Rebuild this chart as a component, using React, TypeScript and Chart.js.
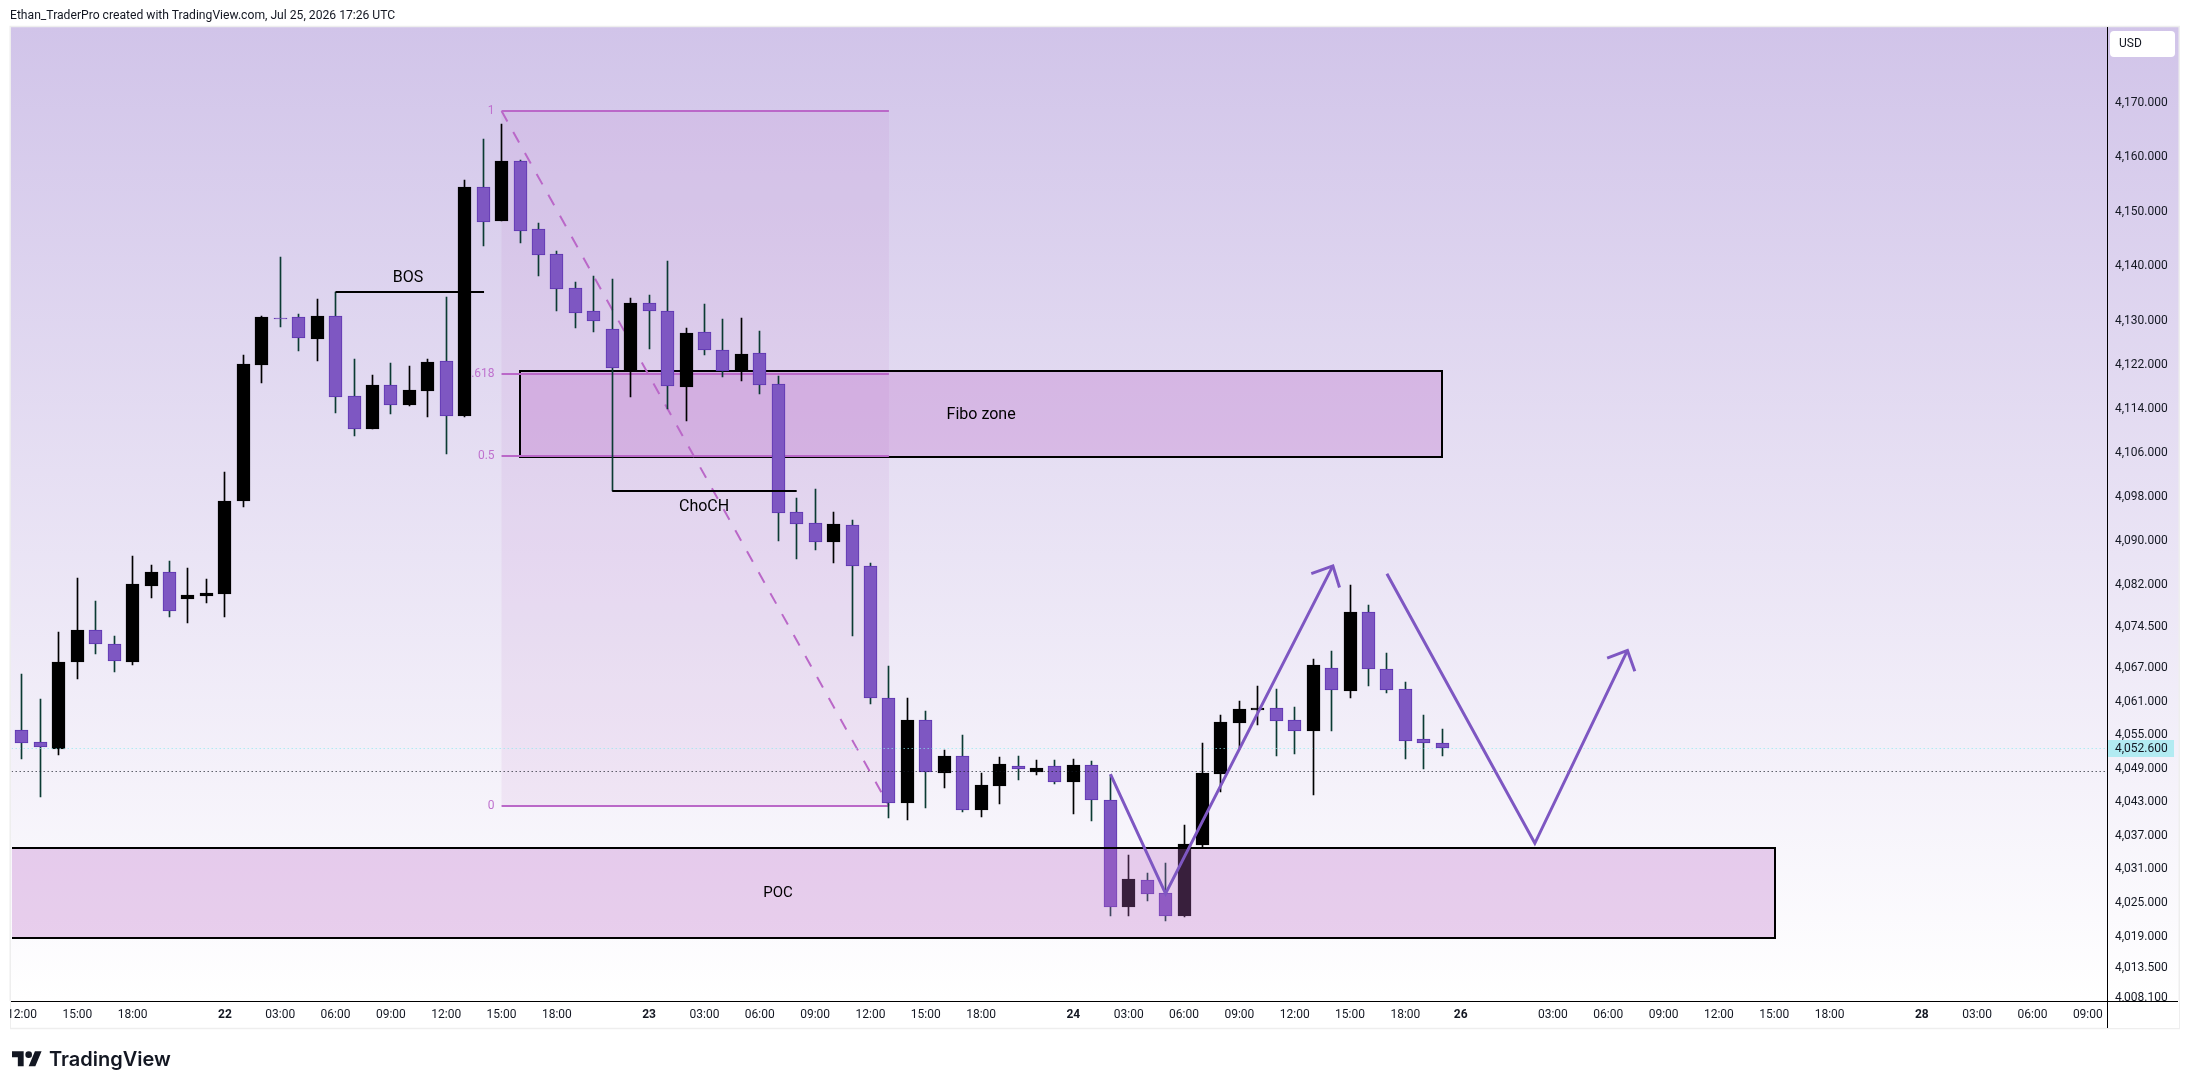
import React, { useEffect, useRef } from "react";
import { Chart, registerables } from "chart.js";

Chart.register(...registerables);

const opens = [4055.79,4053.64,4052.53,4068.15,4073.79,4071.30,4068.15,4081.83,4084.27,4079.40,4080.03,4080.34,4097.15,4121.85,4130.47,4130.56,4126.65,4130.76,4116.16,4110.23,4118.15,4114.56,4117.13,4122.56,4112.59,4154.40,4148.22,4159.18,4146.68,4142.12,4135.87,4131.71,4128.39,4120.83,4133.13,4131.65,4117.81,4127.84,4124.57,4120.87,4123.99,4118.36,4095.09,4093.14,4089.65,4092.88,4085.33,4061.53,4042.86,4057.59,4048.21,4051.17,4041.45,4045.88,4049.40,4048.39,4049.40,4046.62,4049.58,4043.29,4024.15,4029.00,4026.73,4022.70,4035.31,4048.03,4057.16,4059.49,4059.74,4057.64,4055.74,4066.97,4062.77,4077.06,4066.79,4063.20,4054.20,4053.52];
const highs = [4065.85,4061.46,4073.46,4083.20,4079.04,4072.73,4087.25,4085.57,4086.25,4085.06,4082.96,4102.33,4123.71,4130.76,4141.61,4131.20,4133.95,4135.22,4123.00,4120.06,4122.25,4121.72,4123.00,4134.21,4155.75,4163.32,4166.03,4159.38,4147.84,4142.69,4137.00,4138.20,4137.51,4134.05,4134.69,4140.89,4128.59,4133.02,4130.28,4130.47,4128.09,4119.89,4097.69,4099.29,4095.16,4093.64,4085.96,4067.34,4061.53,4059.31,4052.28,4054.99,4048.09,4050.99,4051.17,4050.44,4050.44,4050.69,4050.26,4047.78,4033.47,4030.28,4032.06,4038.88,4053.52,4058.57,4061.03,4063.69,4063.20,4059.92,4068.59,4070.01,4081.94,4078.36,4069.70,4064.54,4058.57,4056.04];
const lows = [4050.74,4043.79,4051.42,4065.06,4069.58,4066.35,4067.47,4079.60,4076.20,4075.14,4078.79,4076.20,4096.08,4118.60,4128.84,4124.41,4122.62,4113.16,4108.96,4110.23,4112.96,4114.43,4112.39,4105.71,4112.41,4143.66,4148.22,4144.17,4138.13,4131.65,4128.64,4127.87,4099.04,4116.03,4124.81,4113.86,4111.68,4123.73,4119.69,4118.93,4116.63,4089.96,4086.67,4088.19,4085.84,4072.69,4060.60,4040.09,4039.79,4041.93,4045.51,4041.20,4040.29,4042.61,4046.97,4047.78,4046.25,4040.84,4039.49,4022.70,4022.70,4025.20,4021.67,4022.52,4034.88,4044.83,4052.41,4056.83,4051.12,4051.48,4044.27,4055.62,4061.53,4063.76,4062.57,4050.74,4048.95,4051.12];
const closes = [4053.45,4052.89,4068.08,4073.84,4071.25,4068.33,4082.15,4084.27,4077.19,4080.16,4080.52,4097.15,4122.05,4130.63,4130.28,4126.72,4130.83,4116.08,4110.29,4118.20,4114.63,4117.33,4122.44,4112.65,4154.46,4148.09,4159.18,4146.43,4142.05,4135.82,4131.45,4129.99,4121.41,4133.13,4131.78,4118.01,4127.80,4124.52,4120.79,4123.86,4118.29,4095.04,4093.07,4089.65,4092.94,4085.45,4061.53,4042.86,4057.64,4048.39,4051.17,4041.45,4045.94,4049.70,4048.95,4049.02,4046.62,4049.58,4043.23,4024.15,4029.25,4026.61,4022.70,4035.49,4048.09,4057.34,4059.61,4059.74,4057.39,4055.74,4067.52,4062.95,4077.12,4066.73,4062.95,4053.95,4053.45,4052.60];

const priceTicks = [4170,4160,4150,4140,4130,4122,4114,4106,4098,4090,4082,4074.5,4067,4061,4055,4049,4043,4037,4031,4025,4019,4013.5,4008.1];
const timeTickIndex = [0,3,6,11,14,17,20,23,26,29,34,37,40,43,46,49,52,57,60,63,66,69,72,75,78,83,86,89,92,95,98,103,106,109,112];
const timeTickLabels = ["12:00","15:00","18:00","22","03:00","06:00","09:00","12:00","15:00","18:00","23","03:00","06:00","09:00","12:00","15:00","18:00","24","03:00","06:00","09:00","12:00","15:00","18:00","26","03:00","06:00","09:00","12:00","15:00","18:00","28","03:00","06:00","09:00"];
const dayLabels = ["22","23","24","26","28"];

const xRange = [-0.56, 113.04];
const yRange = [4007.52, 4183.97];

const lastPrice = 4052.6;
const dottedPrice = 4048.44;

const bosLine = [{ x: 17, y: 4135.2 }, { x: 25.05, y: 4135.2 }];
const chochLine = [{ x: 32, y: 4099.04 }, { x: 42, y: 4099.04 }];
const fibStart = 26;
const fibEnd = 47;
const fibLevels = [
  { label: "1", price: 4168.45 },
  { label: "0.618", price: 4120.24 },
  { label: "0.5", price: 4105.32 },
  { label: "0", price: 4042.27 },
];
const fibTrend = [{ x: 26, y: 4168.45 }, { x: 47, y: 4042.27 }];
const fiboZone = { x0: 27, x1: 77, top: 4120.79, bottom: 4105.2 };
const pocZone = { x0: -0.56, x1: 95.05, top: 4034.78, bottom: 4018.76 };

const zigzagOne = [{ x: 59.01, y: 4047.96 }, { x: 62, y: 4026.6 }, { x: 71.07, y: 4085.4 }];
const arrowOne = [{ x: 69.9, y: 4084 }, { x: 71.07, y: 4085.4 }, { x: 71.43, y: 4081.5 }];
const zigzagTwo = [{ x: 74, y: 4084 }, { x: 82.02, y: 4035.58 }, { x: 87.04, y: 4070.15 }];
const arrowTwo = [{ x: 85.94, y: 4068.78 }, { x: 87.04, y: 4070.15 }, { x: 87.44, y: 4066.43 }];

const chartLabels = [
  { text: "BOS", x: 20.93, y: 4137.78, size: 16 },
  { text: "ChoCH", x: 36.98, y: 4096.12, size: 16 },
  { text: "Fibo zone", x: 52, y: 4112.8, size: 16 },
  { text: "POC", x: 40.99, y: 4026.6, size: 15 },
];

const FONT = 'Roboto, sans-serif';
const PURPLE = "#7e57c2";
const PURPLE_EDGE = "#5e35b1";
const FIB = "#ba68c8";
const ZONE_FILL = "rgba(186,104,200,0.3)";

const W = 2188;
const H = 1089;
const FRAME = { left: 11, top: 27, right: 2179, bottom: 1028, plotRight: 2107, plotBottom: 1001 };

const BODY_INDEX = 1;

function lineSet(data: any[], color: string, width: number, order: number, dash: number[] = [], snap = "") {
  return {
    type: "line" as const,
    data,
    borderColor: color,
    borderWidth: width,
    borderDash: dash,
    pointRadius: 0,
    tension: 0,
    order,
    fill: false,
    borderJoinStyle: "miter" as const,
    snapY: snap,
  };
}

const isUp = (i: number) => closes[i] >= opens[i];

export default function App() {
  const ref = useRef<HTMLCanvasElement>(null);

  useEffect(() => {
    document.body.style.margin = "0";
    document.body.style.background = "#ffffff";

    const zoneRect = (chart: any, z: any, openLeft: boolean) => {
      const { x, y } = chart.scales;
      const { ctx } = chart;
      const x0 = Math.round(x.getPixelForValue(z.x0));
      const x1 = Math.round(x.getPixelForValue(z.x1));
      const y0 = Math.round(y.getPixelForValue(z.top));
      const y1 = Math.round(y.getPixelForValue(z.bottom));
      ctx.save();
      ctx.fillStyle = ZONE_FILL;
      ctx.fillRect(x0, y0, x1 - x0, y1 - y0);
      ctx.strokeStyle = "#000000";
      ctx.lineWidth = 2;
      ctx.beginPath();
      if (openLeft) {
        ctx.moveTo(x0, y0);
        ctx.lineTo(x1, y0);
        ctx.lineTo(x1, y1);
        ctx.lineTo(x0, y1);
      } else {
        ctx.rect(x0, y0, x1 - x0, y1 - y0);
      }
      ctx.stroke();
      ctx.restore();
    };

    const overlay = {
      id: "overlay",
      beforeDraw(chart: any) {
        const { ctx } = chart;
        const g = ctx.createLinearGradient(0, FRAME.top, 0, FRAME.plotBottom);
        g.addColorStop(0, "#d1c4e9");
        g.addColorStop(1, "#ffffff");
        ctx.save();
        ctx.fillStyle = "#ffffff";
        ctx.fillRect(0, 0, W, H);
        ctx.fillStyle = g;
        ctx.fillRect(FRAME.left, FRAME.top, FRAME.right - FRAME.left, FRAME.bottom - FRAME.top);
        ctx.strokeStyle = "#eeeeee";
        ctx.lineWidth = 1.5;
        ctx.strokeRect(FRAME.left - 0.75, FRAME.top - 0.5, FRAME.right - FRAME.left + 1, FRAME.bottom - FRAME.top + 1);
        ctx.restore();
      },
      beforeDatasetsDraw(chart: any) {
        const { ctx } = chart;
        const { x, y } = chart.scales;
        [0, BODY_INDEX].forEach((di) => {
          const w = di === 0 ? 1 : 13;
          chart.getDatasetMeta(di).data.forEach((el: any) => {
            el.x = Math.floor(el.x) + 0.5;
            el.width = w;
            const a = Math.round(el.y);
            let b = Math.round(el.base);
            if (a === b) b = a + 1;
            el.y = a;
            el.base = b;
          });
        });
        chart.data.datasets.forEach((d: any, di: number) => {
          if (!d.snapY) return;
          chart.getDatasetMeta(di).data.forEach((p: any) => {
            p.y = d.snapY === "odd" ? Math.floor(p.y) + 0.5 : Math.round(p.y);
          });
        });
        const fx0 = x.getPixelForValue(fibStart);
        const fx1 = x.getPixelForValue(fibEnd);
        const fy0 = y.getPixelForValue(fibLevels[0].price);
        const fy1 = y.getPixelForValue(fibLevels[3].price);
        ctx.save();
        ctx.fillStyle = "rgba(186,104,200,0.1)";
        ctx.fillRect(fx0, fy0, fx1 - fx0, fy1 - fy0);
        ctx.font = `12px ${FONT}`;
        ctx.fillStyle = "#bf72ce";
        ctx.textAlign = "right";
        ctx.textBaseline = "middle";
        fibLevels.forEach((l) => ctx.fillText(l.label, fx0 - 7, y.getPixelForValue(l.price)));
        ctx.restore();
        zoneRect(chart, fiboZone, false);
        ctx.save();
        ctx.font = `${chartLabels[2].size}px ${FONT}`;
        ctx.fillStyle = "#000000";
        ctx.textAlign = "center";
        ctx.textBaseline = "middle";
        ctx.fillText(chartLabels[2].text, x.getPixelForValue(chartLabels[2].x), y.getPixelForValue(chartLabels[2].y));
        ctx.restore();
      },
      afterDatasetDraw(chart: any, args: any) {
        if (args.index === BODY_INDEX) zoneRect(chart, pocZone, true);
      },
      afterDatasetsDraw(chart: any) {
        const { ctx } = chart;
        const { x, y } = chart.scales;
        ctx.save();
        ctx.fillStyle = "#000000";
        ctx.textAlign = "center";
        ctx.textBaseline = "middle";
        chartLabels.forEach((l, i) => {
          if (i === 2) return;
          ctx.font = `${l.size}px ${FONT}`;
          ctx.fillText(l.text, x.getPixelForValue(l.x), y.getPixelForValue(l.y));
        });
        ctx.restore();
      },
      afterDraw(chart: any) {
        const { ctx } = chart;
        const { y } = chart.scales;
        ctx.save();
        // the labels stop at the axis lines
        ctx.fillStyle = "#ffffff";
        ctx.fillRect(FRAME.plotRight + 1, FRAME.plotBottom, FRAME.right - FRAME.plotRight - 1, FRAME.bottom - FRAME.plotBottom);
        ctx.fillRect(0, FRAME.plotBottom, FRAME.left - 1, FRAME.bottom - FRAME.plotBottom + 2);
        // axis lines
        ctx.fillStyle = "#000000";
        ctx.fillRect(FRAME.plotRight, FRAME.top, 1, FRAME.bottom - FRAME.top);
        ctx.fillRect(FRAME.left, FRAME.plotBottom, FRAME.right - FRAME.left - 1, 1);
        // USD badge
        ctx.fillStyle = "#ffffff";
        ctx.beginPath();
        ctx.roundRect(2110, 31, 65, 26, 4);
        ctx.fill();
        ctx.fillStyle = "#131722";
        ctx.font = `12px ${FONT}`;
        ctx.textAlign = "left";
        ctx.textBaseline = "middle";
        ctx.fillText("USD", 2119, 44);
        // last price badge
        const py = y.getPixelForValue(lastPrice);
        ctx.fillStyle = "#b2ebf2";
        ctx.fillRect(FRAME.plotRight + 1, Math.round(py) - 8, 66, 17);
        ctx.fillStyle = "#131722";
        ctx.fillText(
          lastPrice.toLocaleString("en-US", { minimumFractionDigits: 3 }),
          2115,
          py + 0.5
        );
        ctx.restore();
      },
    };

    const idx = opens.map((_, i) => i);
    const chart = new Chart(ref.current as HTMLCanvasElement, {
      type: "bar",
      data: {
        datasets: [
          {
            type: "bar",
            data: idx.map((i) => ({ x: i, y: [lows[i], highs[i]] })),
            backgroundColor: idx.map((i) => (isUp(i) ? "#000000" : "#0b3b33")),
            borderWidth: 0,
            grouped: false,
            barPercentage: 1,
            categoryPercentage: 1,
            maxBarThickness: 1,
            order: 5,
          },
          {
            type: "bar",
            data: idx.map((i) => ({ x: i, y: [opens[i], closes[i]] })),
            backgroundColor: idx.map((i) => (isUp(i) ? "#000000" : PURPLE)),
            borderColor: idx.map((i) => (isUp(i) ? "#000000" : PURPLE_EDGE)),
            borderWidth: 1,
            borderSkipped: false,
            grouped: false,
            barPercentage: 1,
            categoryPercentage: 1,
            maxBarThickness: 13,
            order: 4,
          },
          ...fibLevels.map((l) =>
            lineSet([{ x: fibStart, y: l.price }, { x: fibEnd, y: l.price }], FIB, 2, 10, [], "even")
          ),
          lineSet(fibTrend, FIB, 2, 10, [12, 12]),
          lineSet(bosLine, "#000000", 2, 1, [], "even"),
          lineSet(chochLine, "#000000", 2, 1, [], "even"),
          lineSet(zigzagOne, PURPLE, 3, 1),
          lineSet(arrowOne, PURPLE, 3, 1),
          lineSet(zigzagTwo, PURPLE, 3, 1),
          lineSet(arrowTwo, PURPLE, 3, 1),
          lineSet([{ x: xRange[0], y: lastPrice }, { x: xRange[1], y: lastPrice }], "#8be9ef", 1, 1, [1, 3], "odd"),
          lineSet([{ x: xRange[0], y: dottedPrice }, { x: xRange[1], y: dottedPrice }], "#131722", 1, 1, [1, 3], "odd"),
        ] as any,
      },
      options: {
        animation: false,
        responsive: false,
        devicePixelRatio: 1,
        layout: {
          padding: {
            left: FRAME.left,
            top: FRAME.top,
            right: W - FRAME.right,
            bottom: H - FRAME.bottom,
          },
        },
        plugins: {
          legend: { display: false },
          tooltip: { enabled: false },
          title: { display: false },
        },
        scales: {
          x: {
            type: "linear",
            offset: false,
            min: xRange[0],
            max: xRange[1],
            grid: { display: false, drawTicks: false, offset: false },
            border: { display: false },
            afterBuildTicks: (axis: any) => {
              axis.ticks = timeTickIndex.map((v) => ({ value: v }));
            },
            afterFit: (axis: any) => {
              axis.height = FRAME.bottom - FRAME.plotBottom;
            },
            ticks: {
              autoSkip: false,
              maxRotation: 0,
              minRotation: 0,
              padding: 7,
              color: "#131722",
              callback: (v: any) => timeTickLabels[timeTickIndex.indexOf(Number(v))] ?? "",
              font: (c: any) => {
                const t = timeTickLabels[timeTickIndex.indexOf(c.tick?.value)];
                return { family: FONT, size: 12, weight: dayLabels.includes(t) ? "bold" : "normal" };
              },
            },
          },
          y: {
            type: "logarithmic",
            position: "right",
            min: yRange[0],
            max: yRange[1],
            grid: { display: false, drawTicks: false },
            border: { display: false },
            afterBuildTicks: (axis: any) => {
              axis.ticks = priceTicks.map((v) => ({ value: v }));
            },
            afterFit: (axis: any) => {
              axis.width = FRAME.right - FRAME.plotRight;
            },
            ticks: {
              autoSkip: false,
              padding: 8,
              labelOffset: 0.5,
              color: "#131722",
              font: { family: FONT, size: 12 },
              callback: (v: any) => Number(v).toLocaleString("en-US", { minimumFractionDigits: 3 }),
            },
          },
        },
      } as any,
      plugins: [overlay],
    });
    return () => chart.destroy();
  }, []);

  return (
    <div style={{ position: "absolute", left: 0, top: 0, width: W, height: H, background: "#fff", overflow: "hidden" }}>
      <canvas ref={ref} width={W} height={H} style={{ display: "block", width: W, height: H }} />
      <div
        style={{
          position: "absolute",
          left: 10,
          top: 8,
          font: `12.15px ${FONT}`,
          color: "#131722",
          whiteSpace: "nowrap",
        }}
      >
        Ethan_TraderPro created with TradingView.com, Jul 25, 2026 17:26 UTC
      </div>
      <svg
        style={{ position: "absolute", left: 12.3, top: 1047.7 }}
        width={30}
        height={23.33}
        viewBox="0 0 36 28"
      >
        <path d="M14 22H7V11H0V4h14v18zM28 22h-8l7.5-18h8L28 22z" fill="#131722" />
        <circle cx="20" cy="8" r="4" fill="#131722" />
      </svg>
      <div
        style={{
          position: "absolute",
          left: 49,
          top: 1045,
          font: `600 20px Inter, sans-serif`,
          color: "#131722",
          whiteSpace: "nowrap",
          lineHeight: "28px",
        }}
      >
        TradingView
      </div>
    </div>
  );
}
